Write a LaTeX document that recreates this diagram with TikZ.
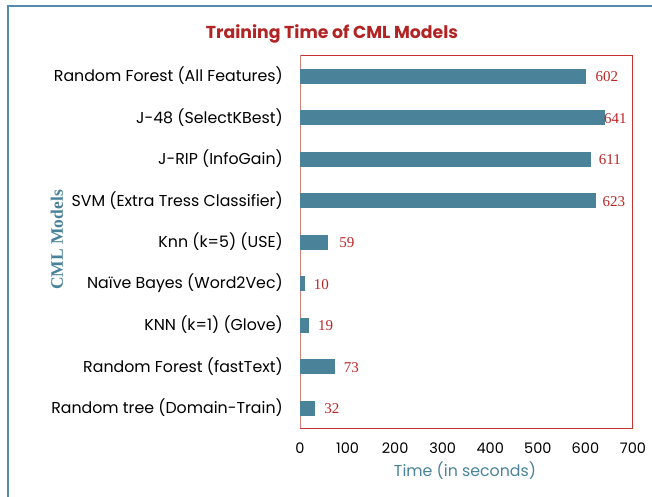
\documentclass[tikz,border=0pt]{standalone}
\usepackage{fontspec}
\setmainfont{Liberation Serif}
\setsansfont{Poppins}
\begin{document}
\begin{tikzpicture}[x=1pt,y=-1pt,
  bar/.style={fill=barblue,draw=none},
  catlabel/.style={anchor=east,font=\sffamily\fontsize{15.8}{18}\selectfont,text=black,inner sep=0pt},
  vallabel/.style={anchor=west,font=\rmfamily\fontsize{15}{17}\selectfont,text=valred,inner sep=0pt},
  ticklabel/.style={anchor=center,font=\sffamily\fontsize{14.5}{17}\selectfont,text=black,inner sep=0pt}]
\definecolor{barblue}{RGB}{74,131,153}
\definecolor{framblue}{RGB}{86,140,170}
\definecolor{titlered}{RGB}{178,36,36}
\definecolor{valred}{RGB}{190,38,38}
\definecolor{plotred}{RGB}{196,50,45}
\definecolor{axisred}{RGB}{214,130,120}
\useasboundingbox (0,0) rectangle (652,496);
\fill[white] (0,0) rectangle (652,496);
% outer chart frame
\draw[framblue,line width=2pt] (7.5,500) -- (7.5,5.5) -- (656,5.5);
% title
\node[font=\sffamily\bfseries\fontsize{17.3}{20}\selectfont,text=titlered] (title) at (332,34) {Training Time of CML Models};
% plot area
\draw[plotred,line width=1pt] (300,55) -- (632,55) -- (632,428) -- (300,428);
\draw[axisred,line width=1pt] (300,55) -- (300,428);
% bars: x = 300 + 0.4757*value, centers spaced 41.5px
\def\sc{0.4757}
\foreach \i/\v/\lab/\gap in {0/602/{Random Forest (All Features)}/9,
  1/641/{J-48 (SelectKBest)}/-1,
  2/611/{J-RIP (InfoGain)}/8,
  3/623/{SVM (Extra Tress Classifier)}/6,
  4/59/{Knn (k=5) (USE)}/11,
  5/10/{Naïve Bayes (Word2Vec)}/9,
  6/19/{KNN (k=1) (Glove)}/9,
  7/73/{Random Forest (fastText)}/9,
  8/32/{Random tree (Domain-Train)}/9}{
  \pgfmathsetmacro\yc{76+41.5*\i}
  \pgfmathsetmacro\xe{300+\sc*\v}
  \fill[bar] (300,\yc-7.5) rectangle (\xe,\yc+7.5);
  \node[catlabel] (cat\i) at (283,\yc) {\lab};
  \node[vallabel] (val\i) at (\xe+\gap,\yc+1) {\v};
}
% tick labels
\foreach \t in {0,100,...,700}{
  \node[ticklabel] (tick\t) at (300+\sc*\t,448) {\t};
}
% axis titles
\node[font=\sffamily\fontsize{15.8}{18}\selectfont,text=barblue] (xtitle) at (465,471) {Time (in seconds)};
\node[font=\rmfamily\bfseries\fontsize{17.5}{20}\selectfont,text=barblue,rotate=90] (ytitle) at (57,240) {CML Models};
\end{tikzpicture}
\end{document}
